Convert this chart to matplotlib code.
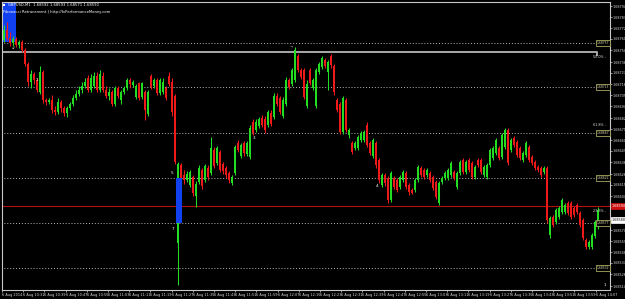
import matplotlib
matplotlib.use('Agg')
import matplotlib.pyplot as plt
from matplotlib.patches import Rectangle
import numpy as np

# GBPUSD M1 candles, 6 Aug 2014
open_ = [1.68760, 1.68770, 1.68762, 1.68757, 1.68761, 1.68755, 1.68758, 1.68750, 1.68736, 1.68718,
         1.68726, 1.68720, 1.68708, 1.68728, 1.68700, 1.68698, 1.68700, 1.68690, 1.68688, 1.68698,
         1.68692, 1.68687, 1.68692, 1.68696, 1.68702, 1.68706, 1.68710, 1.68714, 1.68722, 1.68710,
         1.68714, 1.68724, 1.68710, 1.68724, 1.68710, 1.68704, 1.68708, 1.68696, 1.68712, 1.68700,
         1.68708, 1.68712, 1.68720, 1.68715, 1.68703, 1.68717, 1.68703, 1.68708, 1.68686, 1.68724,
         1.68714, 1.68720, 1.68707, 1.68708, 1.68712, 1.68724, 1.68718, 1.68704, 1.68557, 1.68635,
         1.68625, 1.68620, 1.68615, 1.68623, 1.68604, 1.68618, 1.68630, 1.68620, 1.68632, 1.68627,
         1.68650, 1.68637, 1.68648, 1.68636, 1.68632, 1.68627, 1.68617, 1.68627, 1.68657, 1.68644,
         1.68657, 1.68646, 1.68643, 1.68678, 1.68670, 1.68674, 1.68682, 1.68681, 1.68675, 1.68687,
         1.68683, 1.68704, 1.68702, 1.68684, 1.68696, 1.68720, 1.68716, 1.68720, 1.68744, 1.68730,
         1.68730, 1.68694, 1.68730, 1.68712, 1.68694, 1.68728, 1.68733, 1.68740, 1.68728, 1.68744,
         1.68734, 1.68700, 1.68696, 1.68668, 1.68700, 1.68665, 1.68657, 1.68652, 1.68652, 1.68660,
         1.68660, 1.68675, 1.68657, 1.68644, 1.68657, 1.68640, 1.68615, 1.68625, 1.68622, 1.68600,
         1.68622, 1.68620, 1.68613, 1.68620, 1.68627, 1.68615, 1.68610, 1.68610, 1.68620, 1.68632,
         1.68630, 1.68625, 1.68627, 1.68623, 1.68618, 1.68597, 1.68618, 1.68622, 1.68622, 1.68625,
         1.68628, 1.68613, 1.68627, 1.68640, 1.68628, 1.68640, 1.68637, 1.68623, 1.68640, 1.68640,
         1.68625, 1.68623, 1.68635, 1.68642, 1.68647, 1.68652, 1.68643, 1.68653, 1.68670, 1.68650,
         1.68662, 1.68658, 1.68652, 1.68640, 1.68645, 1.68653, 1.68643, 1.68638, 1.68633, 1.68632,
         1.68628, 1.68632, 1.68565, 1.68583, 1.68578, 1.68583, 1.68588, 1.68588, 1.68597, 1.68597,
         1.68592, 1.68595, 1.68587, 1.68580, 1.68560, 1.68553, 1.68553, 1.68564, 1.68573]
close = [1.68770, 1.68762, 1.68757, 1.68761, 1.68755, 1.68758, 1.68750, 1.68736, 1.68718, 1.68726,
         1.68720, 1.68710, 1.68728, 1.68700, 1.68698, 1.68700, 1.68690, 1.68688, 1.68698, 1.68692,
         1.68687, 1.68692, 1.68696, 1.68702, 1.68706, 1.68710, 1.68714, 1.68718, 1.68710, 1.68722,
         1.68724, 1.68710, 1.68726, 1.68710, 1.68704, 1.68708, 1.68696, 1.68712, 1.68704, 1.68708,
         1.68712, 1.68720, 1.68716, 1.68718, 1.68714, 1.68702, 1.68717, 1.68690, 1.68708, 1.68713,
         1.68720, 1.68707, 1.68720, 1.68718, 1.68702, 1.68716, 1.68688, 1.68638, 1.68636, 1.68614,
         1.68620, 1.68626, 1.68628, 1.68607, 1.68616, 1.68632, 1.68614, 1.68634, 1.68623, 1.68652,
         1.68634, 1.68652, 1.68630, 1.68629, 1.68625, 1.68620, 1.68623, 1.68653, 1.68650, 1.68655,
         1.68647, 1.68657, 1.68672, 1.68667, 1.68678, 1.68681, 1.68675, 1.68670, 1.68688, 1.68676,
         1.68704, 1.68696, 1.68688, 1.68700, 1.68720, 1.68713, 1.68730, 1.68750, 1.68730, 1.68723,
         1.68703, 1.68716, 1.68717, 1.68720, 1.68730, 1.68736, 1.68742, 1.68734, 1.68738, 1.68735,
         1.68708, 1.68690, 1.68668, 1.68702, 1.68670, 1.68670, 1.68648, 1.68657, 1.68663, 1.68667,
         1.68668, 1.68655, 1.68647, 1.68660, 1.68635, 1.68620, 1.68625, 1.68617, 1.68600, 1.68627,
         1.68613, 1.68610, 1.68623, 1.68628, 1.68613, 1.68608, 1.68607, 1.68620, 1.68633, 1.68625,
         1.68623, 1.68630, 1.68620, 1.68612, 1.68603, 1.68617, 1.68622, 1.68627, 1.68630, 1.68637,
         1.68622, 1.68627, 1.68638, 1.68628, 1.68638, 1.68630, 1.68623, 1.68633, 1.68635, 1.68628,
         1.68633, 1.68635, 1.68650, 1.68652, 1.68660, 1.68642, 1.68665, 1.68670, 1.68637, 1.68660,
         1.68655, 1.68645, 1.68642, 1.68647, 1.68657, 1.68640, 1.68637, 1.68632, 1.68630, 1.68625,
         1.68632, 1.68580, 1.68582, 1.68575, 1.68590, 1.68592, 1.68600, 1.68595, 1.68587, 1.68583,
         1.68585, 1.68588, 1.68575, 1.68562, 1.68553, 1.68558, 1.68565, 1.68578, 1.68590]
high = [1.68775, 1.68778, 1.68768, 1.68764, 1.68763, 1.68760, 1.68760, 1.68752, 1.68738, 1.68730,
        1.68728, 1.68722, 1.68734, 1.68730, 1.68702, 1.68702, 1.68705, 1.68694, 1.68702, 1.68700,
        1.68694, 1.68694, 1.68698, 1.68705, 1.68710, 1.68714, 1.68718, 1.68722, 1.68725, 1.68726,
        1.68728, 1.68728, 1.68730, 1.68728, 1.68714, 1.68712, 1.68710, 1.68714, 1.68714, 1.68710,
        1.68714, 1.68722, 1.68722, 1.68720, 1.68716, 1.68718, 1.68718, 1.68710, 1.68710, 1.68726,
        1.68722, 1.68722, 1.68722, 1.68722, 1.68714, 1.68728, 1.68722, 1.68706, 1.68638, 1.68637,
        1.68630, 1.68629, 1.68630, 1.68625, 1.68619, 1.68635, 1.68632, 1.68636, 1.68635, 1.68663,
        1.68653, 1.68654, 1.68650, 1.68638, 1.68634, 1.68629, 1.68625, 1.68655, 1.68660, 1.68657,
        1.68659, 1.68659, 1.68675, 1.68681, 1.68681, 1.68683, 1.68685, 1.68684, 1.68690, 1.68690,
        1.68707, 1.68707, 1.68704, 1.68703, 1.68723, 1.68722, 1.68732, 1.68753, 1.68746, 1.68732,
        1.68732, 1.68720, 1.68732, 1.68722, 1.68732, 1.68738, 1.68744, 1.68742, 1.68740, 1.68746,
        1.68736, 1.68702, 1.68698, 1.68704, 1.68702, 1.68672, 1.68659, 1.68659, 1.68665, 1.68669,
        1.68670, 1.68678, 1.68659, 1.68662, 1.68659, 1.68642, 1.68627, 1.68627, 1.68624, 1.68629,
        1.68624, 1.68622, 1.68625, 1.68630, 1.68629, 1.68617, 1.68612, 1.68622, 1.68635, 1.68634,
        1.68632, 1.68632, 1.68629, 1.68625, 1.68620, 1.68619, 1.68624, 1.68629, 1.68632, 1.68639,
        1.68630, 1.68629, 1.68640, 1.68642, 1.68640, 1.68642, 1.68639, 1.68635, 1.68642, 1.68642,
        1.68635, 1.68637, 1.68652, 1.68654, 1.68662, 1.68654, 1.68667, 1.68672, 1.68672, 1.68662,
        1.68664, 1.68660, 1.68654, 1.68649, 1.68659, 1.68655, 1.68645, 1.68640, 1.68635, 1.68634,
        1.68634, 1.68634, 1.68584, 1.68585, 1.68592, 1.68594, 1.68602, 1.68597, 1.68599, 1.68599,
        1.68594, 1.68597, 1.68589, 1.68582, 1.68562, 1.68560, 1.68567, 1.68580, 1.68593]
low = [1.68758, 1.68760, 1.68754, 1.68754, 1.68753, 1.68752, 1.68748, 1.68734, 1.68714, 1.68712,
       1.68716, 1.68708, 1.68706, 1.68697, 1.68695, 1.68696, 1.68687, 1.68685, 1.68686, 1.68688,
       1.68684, 1.68683, 1.68690, 1.68694, 1.68700, 1.68704, 1.68707, 1.68712, 1.68708, 1.68708,
       1.68712, 1.68708, 1.68708, 1.68708, 1.68702, 1.68700, 1.68694, 1.68694, 1.68702, 1.68696,
       1.68706, 1.68710, 1.68712, 1.68713, 1.68701, 1.68700, 1.68701, 1.68680, 1.68684, 1.68711,
       1.68712, 1.68705, 1.68705, 1.68706, 1.68700, 1.68714, 1.68684, 1.68636, 1.68515, 1.68611,
       1.68616, 1.68618, 1.68613, 1.68604, 1.68593, 1.68616, 1.68611, 1.68618, 1.68620, 1.68625,
       1.68632, 1.68635, 1.68628, 1.68626, 1.68622, 1.68617, 1.68615, 1.68625, 1.68648, 1.68642,
       1.68644, 1.68644, 1.68641, 1.68665, 1.68668, 1.68672, 1.68673, 1.68667, 1.68673, 1.68674,
       1.68681, 1.68694, 1.68686, 1.68682, 1.68694, 1.68711, 1.68714, 1.68718, 1.68728, 1.68721,
       1.68701, 1.68692, 1.68715, 1.68710, 1.68692, 1.68726, 1.68731, 1.68732, 1.68710, 1.68732,
       1.68705, 1.68688, 1.68666, 1.68666, 1.68668, 1.68662, 1.68646, 1.68650, 1.68650, 1.68658,
       1.68658, 1.68653, 1.68645, 1.68642, 1.68632, 1.68617, 1.68613, 1.68614, 1.68597, 1.68598,
       1.68611, 1.68608, 1.68611, 1.68618, 1.68611, 1.68605, 1.68606, 1.68608, 1.68618, 1.68623,
       1.68621, 1.68623, 1.68618, 1.68610, 1.68601, 1.68595, 1.68616, 1.68620, 1.68620, 1.68623,
       1.68620, 1.68611, 1.68625, 1.68626, 1.68626, 1.68628, 1.68621, 1.68621, 1.68633, 1.68626,
       1.68623, 1.68621, 1.68633, 1.68640, 1.68645, 1.68640, 1.68641, 1.68651, 1.68635, 1.68648,
       1.68653, 1.68643, 1.68640, 1.68638, 1.68643, 1.68638, 1.68635, 1.68630, 1.68628, 1.68623,
       1.68626, 1.68577, 1.68562, 1.68573, 1.68576, 1.68581, 1.68586, 1.68586, 1.68585, 1.68581,
       1.68583, 1.68586, 1.68573, 1.68560, 1.68551, 1.68551, 1.68551, 1.68562, 1.68571]

# price scale labels on the right (MT4 style, fixed pixel spacing)
price_ticks = [1.68794, 1.68783, 1.68772, 1.68761, 1.68750, 1.68738, 1.68727, 1.68716, 1.68705,
               1.68694, 1.68682, 1.68671, 1.68660, 1.68649, 1.68638, 1.68626, 1.68615, 1.68604,
               1.68593, 1.68582, 1.68570, 1.68559, 1.68548, 1.68537, 1.68526, 1.68514]
time_labels = ['6 Aug 2014', '6 Aug 10:31', '6 Aug 10:39', '6 Aug 10:47', '6 Aug 10:55',
               '6 Aug 11:03', '6 Aug 11:11', '6 Aug 11:19', '6 Aug 11:27', '6 Aug 11:35',
               '6 Aug 11:43', '6 Aug 11:51', '6 Aug 11:59', '6 Aug 12:07', '6 Aug 12:15',
               '6 Aug 12:23', '6 Aug 12:31', '6 Aug 12:39', '6 Aug 12:47', '6 Aug 12:55',
               '6 Aug 13:03', '6 Aug 13:11', '6 Aug 13:19', '6 Aug 13:27', '6 Aug 13:35',
               '6 Aug 13:43', '6 Aug 13:51', '6 Aug 13:59', '6 Aug 14:07']

# horizontal levels
dotted_levels = [1.68757, 1.68713, 1.68667, 1.68622, 1.68577, 1.68532]
fib_line = 1.68748
red_line = 1.68594
bid_price = 1.68580
fib_texts = [('50.0%', 1.68743), ('61.8%', 1.68675), ('23.6%', 1.68589)]

GREEN = '#22dd22'
RED = '#ee1a1a'
GRID = '#b8b8b8'
narrow = ['Liberation Sans Narrow', 'DejaVu Sans']

o = np.array(open_)
c = np.array(close)
h = np.array(high)
l = np.array(low)
idx = np.arange(len(c))
cols = np.where(c >= o, GREEN, RED)

fig = plt.figure(figsize=(6.25, 2.99), dpi=100, facecolor='black')
ax = fig.add_axes([2/625, 9/299, 608/625, 288/299])
ax.set_facecolor('black')

# rectangles drawn on the chart
ax.add_patch(Rectangle((-0.67, 1.68758), 4.67, 0.0004, color='#1040f0', zorder=0.5, lw=0))
ax.add_patch(Rectangle((57.3, 1.68577), 2.0, 0.00045, color='#1040f0', zorder=5, lw=0))

ax.vlines(idx, l, h, colors=cols, linewidth=0.75, zorder=3)
ax.bar(idx, np.maximum(np.abs(c - o), 0.000008), bottom=np.minimum(o, c), width=0.67,
       color=cols, linewidth=0, zorder=3)

for lv in dotted_levels:
    ax.plot([-1, 198.3], [lv, lv], color=GRID, lw=0.7, ls=(0, (1, 2)), zorder=2)
    ax.text(199.7, lv, '%.5f' % lv, fontsize=2.2, color='#d8d8b0', ha='center', va='center',
            family=narrow, zorder=6,
            bbox=dict(boxstyle='square,pad=0.25', fc='black', ec='#a8a860', lw=0.6))
ax.plot([-1, 197.7, 197.7], [fib_line, fib_line, fib_line - 0.00003], color='#a8a8a8', lw=1.4, zorder=2)
ax.axhline(red_line, color='#b01010', lw=0.8, zorder=2)
for txt, p in fib_texts:
    ax.text(200.8, p, txt + ' -', fontsize=2.4, color='#e0e0e0', ha='right', va='center', family=narrow)

# small wave marks
for txt, xi, p in [('\u2199', 2.8, 1.68752), ('1', 10.7, 1.68720), ('5', 56.0, 1.68627),
                   ('7', 56.3, 1.68571), ('3', 83.2, 1.68662), ('\u00ac', 95.8, 1.68752),
                   ('4', 124.3, 1.68614), ('1', 200.3, 1.68515)]:
    ax.text(xi, p, txt, fontsize=3, color='white', ha='center', va='center', zorder=6)

ax.set_xlim(-0.67, 202)
ax.set_ylim(1.68510, 1.68798)

ax.yaxis.tick_right()
ax.set_yticks(price_ticks)
ax.set_yticklabels(['%.5f' % p for p in price_ticks], family=narrow)
ax.set_xticks(np.arange(len(time_labels)) * 7.07 - 0.77)
ax.set_xticklabels(time_labels, family=narrow, ha='left')
ax.tick_params(axis='y', colors='#d8d8d8', labelsize=2.4, length=1.2, width=0.5, pad=0.6)
ax.tick_params(axis='x', colors='#d8d8d8', labelsize=2.5, length=1.5, width=0.5, pad=0.6)
for s in ax.spines.values():
    s.set_color('#c8c8c8')
    s.set_linewidth(0.8)

# price boxes on the scale
ytr = ax.get_yaxis_transform()
ax.text(1.003, red_line, '%.5f' % red_line, transform=ytr, fontsize=2.4, color='white',
        va='center', ha='left', family=narrow, clip_on=False, zorder=7,
        bbox=dict(boxstyle='square,pad=0.3', fc='#d01010', ec='#d01010', lw=0.5))
ax.text(1.003, bid_price, '%.5f' % bid_price, transform=ytr, fontsize=2.4, color='black',
        va='center', ha='left', family=narrow, clip_on=False, zorder=7,
        bbox=dict(boxstyle='square,pad=0.3', fc='white', ec='white', lw=0.5))

# header
fig.patches.append(Rectangle((3/625, 1 - 6/299), 2/625, 2/299, transform=fig.transFigure,
                             color='white', lw=0))
fig.text(8/625, 1 - 5/299, 'GBPUSD,M1  1.68592 1.68593 1.68571 1.68590', fontsize=2.7,
         color='white', va='center', family=narrow)
fig.text(3/625, 1 - 12/299, 'Fibonacci Retracement | http://fxPerformanceMoney.com', fontsize=2.7,
         color='white', va='center', family=narrow)

fig.savefig('out.png', dpi=100, facecolor='black')
